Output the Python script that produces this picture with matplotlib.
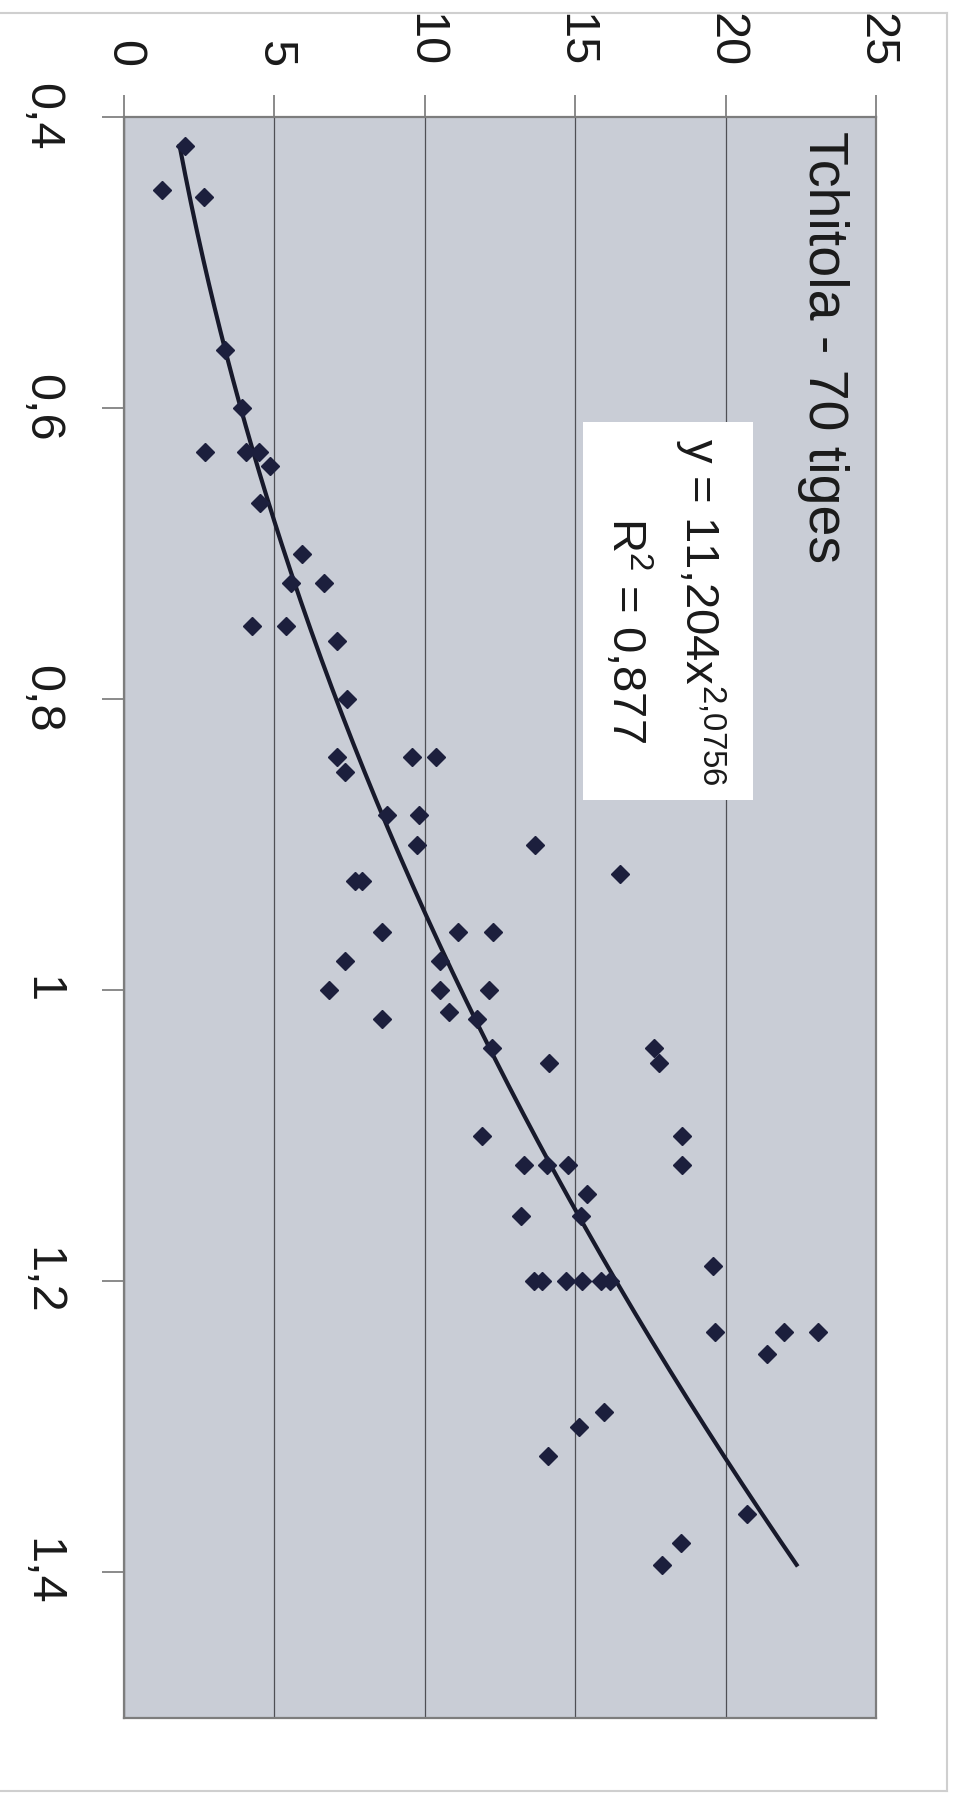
import numpy as np
import matplotlib
matplotlib.use("Agg")
import matplotlib.pyplot as plt
from matplotlib.patches import Rectangle
from matplotlib.lines import Line2D

plt.rcParams['font.family'] = ['Liberation Sans', 'DejaVu Sans']
plt.rcParams['mathtext.fontset'] = 'custom'
plt.rcParams['mathtext.rm'] = 'Liberation Sans'
plt.rcParams['mathtext.it'] = 'Liberation Sans:italic'
plt.rcParams['mathtext.default'] = 'regular'

# ---- data (diameter on the horizontal axis of the original chart, height on the vertical) ----
diametre = [0.42, 0.45, 0.455, 0.56, 0.60, 0.63, 0.63, 0.63, 0.64, 0.665,
            0.70, 0.72, 0.72, 0.75, 0.75, 0.76, 0.80, 0.84, 0.84, 0.84,
            0.85, 0.88, 0.88, 0.90, 0.90, 0.92, 0.925, 0.925, 0.96, 0.96,
            0.96, 0.98, 0.98, 1.00, 1.00, 1.00,
            1.02, 1.015, 1.02, 1.04, 1.05, 1.04, 1.05, 1.10, 1.10, 1.12,
            1.12, 1.12, 1.12, 1.14, 1.155, 1.155, 1.20, 1.20, 1.20, 1.20,
            1.20, 1.20, 1.19, 1.235, 1.235, 1.235, 1.25,
            1.29, 1.30, 1.32, 1.36, 1.38, 1.395]
hauteur = [2.03, 1.27, 2.67, 3.36, 3.91, 2.69, 4.04, 4.49, 4.85, 4.52,
           5.93, 5.54, 6.65, 4.24, 5.39, 7.09, 7.40, 7.07, 9.58, 10.36,
           7.35, 8.75, 9.82, 9.75, 13.68, 16.49, 7.68, 7.90, 8.59, 11.11,
           12.28, 7.35, 10.5, 6.83, 10.5, 12.13,
           8.58, 10.8, 11.72, 12.24, 14.13, 17.63, 17.78, 11.9, 18.56, 13.3,
           14.07, 14.77, 18.56, 15.4, 13.2, 15.18, 13.62, 13.88, 14.69, 15.24,
           15.87, 16.15, 19.58, 19.66, 21.93, 23.08, 21.36,
           15.96, 15.11, 14.10, 20.7, 18.51, 17.9]

coef_a = 11.204
coef_b = 2.0756
title = "Tchitola - 70 tiges"
eq_label = r"y = 11,204x$^{2{,}0756}$"
r2_label = r"R$^{2}$ = 0,877"
x_ticks = [0.4, 0.6, 0.8, 1.0, 1.2, 1.4]
x_ticklabels = ["0,4", "0,6", "0,8", "1", "1,2", "1,4"]
y_ticks = [0, 5, 10, 15, 20, 25]
y_ticklabels = ["0", "5", "10", "15", "20", "25"]

W, H = 959, 1794
fig = plt.figure(figsize=(W / 100, H / 100), dpi=100)
fig.patch.set_facecolor('white')

# chart is rotated 90deg clockwise: data-x runs downward, data-y runs rightward
left, right, top, bottom = 124, 876, 117, 1717.5
ax = fig.add_axes([left / W, 1 - bottom / H, (right - left) / W, (bottom - top) / H])
ax.set_facecolor('#c9cdd6')

ax.grid(axis='x', color='#4f4f55', lw=0.9, zorder=1)
ax.set_axisbelow(True)

xs = np.linspace(min(diametre), max(diametre), 300)
ax.plot(coef_a * xs ** coef_b, xs, color='#17192b', lw=3.0, zorder=2)
ax.plot(hauteur, diametre, 'D', ms=9, color='#1c1f3d', mec='#1c1f3d', zorder=3, clip_on=False)

ax.set_xlim(0, 25)
ax.set_ylim(1.5, 0.4)
ax.xaxis.tick_top()
ax.set_xticks(y_ticks)
ax.set_xticklabels(y_ticklabels)
ax.set_yticks(x_ticks)
ax.set_yticklabels(x_ticklabels)

ax.tick_params(axis='both', direction='out', length=16, width=1.2, color='#777777',
               labelsize=35, labelcolor='#1a1a1a')
ax.tick_params(axis='x', pad=20)
ax.tick_params(axis='y', pad=27)
for lbl in ax.get_xticklabels():
    lbl.set_rotation(-90)
    lbl.set_ha('center')
    lbl.set_va('bottom')
for lbl in ax.get_yticklabels():
    lbl.set_rotation(-90)
    lbl.set_ha('right')
    lbl.set_va('center')

for s in ax.spines.values():
    s.set_color('#7d7d7d')
    s.set_linewidth(1.6)

# title
fig.text(823 / W, 1 - 347 / H, title, rotation=-90, ha='center', va='center',
         fontsize=40, color='#1a1a1a', zorder=6)

# trend-line label box
fig.add_artist(Rectangle((583 / W, 1 - 800 / H), 170 / W, 378 / H, transform=fig.transFigure,
                         facecolor='white', edgecolor='none', zorder=5))
fig.text(700 / W, 1 - 612 / H, eq_label, rotation=-90, ha='center', va='center',
         fontsize=34, color='#1a1a1a', zorder=6)
fig.text(627 / W, 1 - 630 / H, r2_label, rotation=-90, ha='center', va='center',
         fontsize=34, color='#1a1a1a', zorder=6)

# faint chart-area frame
for (x0, y0, x1, y1) in [(0, 13, 947, 13), (947, 13, 947, 1791), (0, 1791, 947, 1791)]:
    fig.add_artist(Line2D([x0 / W, x1 / W], [1 - y0 / H, 1 - y1 / H], transform=fig.transFigure,
                          color='#cfcfcf', lw=1.5))

fig.savefig('out.png', dpi=100)
